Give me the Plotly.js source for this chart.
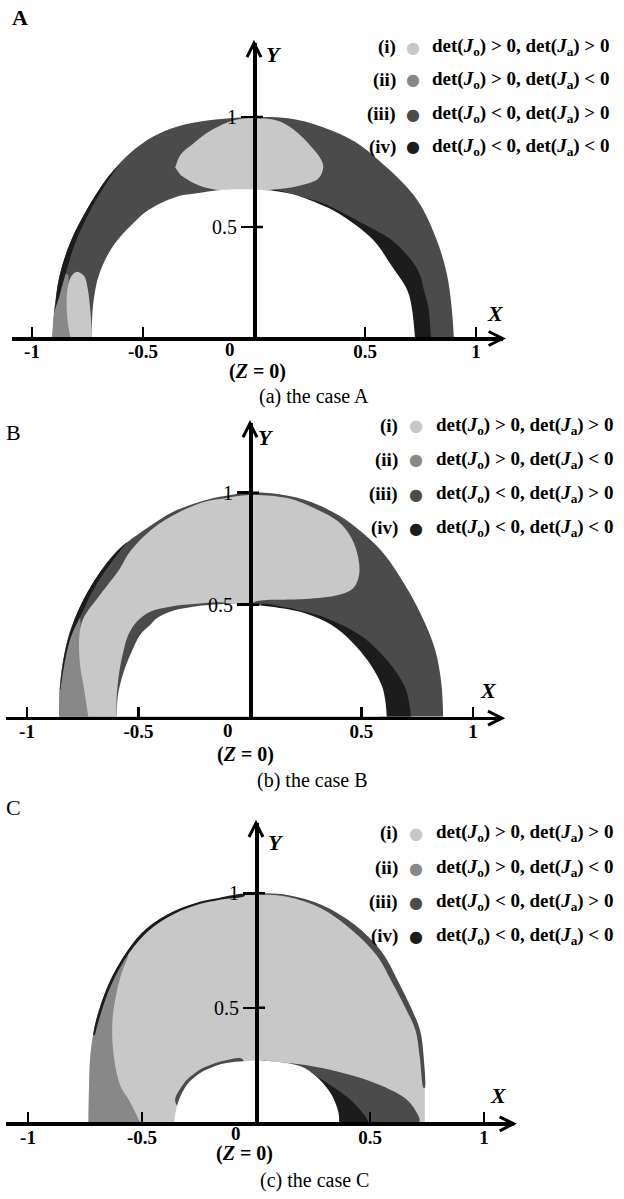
<!DOCTYPE html>
<html>
<head>
<meta charset="utf-8">
<script src="https://cdn.plot.ly/plotly-3.0.1.min.js"></script>
<style>
  html, body { margin: 0; padding: 0; background: #ffffff; }
  #chart { width: 624px; height: 1199px; }
</style>
</head>
<body>
<div id="chart"></div>
<script>
// ---- sign regions of det(J) over the (X, Y) plane at Z = 0 ----

// Region colours: (i) light, (ii) mid, (iii) dark, (iv) black
const regionColors = ['#c8c8c8', '#888888', '#4b4b4b', '#1c1c1c'];
const regionTags = ['(i)', '(ii)', '(iii)', '(iv)'];
const regionConds = [
  'det(<i>J</i><sub>o</sub>) &gt; 0, det(<i>J</i><sub>a</sub>) &gt; 0',
  'det(<i>J</i><sub>o</sub>) &gt; 0, det(<i>J</i><sub>a</sub>) &lt; 0',
  'det(<i>J</i><sub>o</sub>) &lt; 0, det(<i>J</i><sub>a</sub>) &gt; 0',
  'det(<i>J</i><sub>o</sub>) &lt; 0, det(<i>J</i><sub>a</sub>) &lt; 0'
];

const panelLetters = ['A', 'B', 'C'];
const captions = ['(a) the case A', '(b) the case B', '(c) the case C'];

const xTickVals = [-1, -0.5, 0.5, 1];
const xTickText = ['-1', '-0.5', '0.5', '1'];
const yTickVals = [0.5, 1];
const yTickText = ['0.5', '1'];

// ---- case A boundaries [X, Y] ----
const outerA = [[-0.908,0],[-0.899,0.123],[-0.877,0.274],[-0.829,0.426],[-0.754,0.577],[-0.656,0.729],
  [-0.559,0.835],[-0.454,0.911],[-0.348,0.956],[-0.194,0.986],[0,1.0],[0.155,0.994],[0.305,0.956],
  [0.455,0.888],[0.560,0.805],[0.680,0.691],[0.750,0.600],[0.823,0.441],[0.868,0.290],[0.890,0.138],[0.900,0]];
const innerA = [[-0.731,0],[-0.727,0.123],[-0.715,0.214],[-0.701,0.274],[-0.671,0.350],[-0.626,0.426],
  [-0.559,0.502],[-0.476,0.577],[-0.348,0.638],[-0.258,0.653],[-0.153,0.668],[0,0.670],[0.155,0.653],
  [0.305,0.600],[0.380,0.562],[0.535,0.443],[0.622,0.320],[0.690,0.214],[0.710,0.138],[0.725,0]];
const capA = [[-0.355,0.770],[-0.330,0.830],[-0.273,0.880],[-0.200,0.935],[-0.120,0.975],[-0.050,0.993],
  [0.050,0.993],[0.120,0.978],[0.200,0.925],[0.262,0.860],[0.300,0.810],[0.312,0.774],[0.290,0.720],
  [0.200,0.686],[0.068,0.668],[0,0.662],[-0.153,0.668],[-0.221,0.680],[-0.273,0.700],[-0.330,0.735]];
const ellipseA = [[-0.827,0],[-0.838,0.060],[-0.844,0.150],[-0.840,0.220],[-0.826,0.270],[-0.808,0.292],
  [-0.796,0.297],[-0.780,0.290],[-0.762,0.272],[-0.748,0.214],[-0.738,0.130],[-0.732,0.050],[-0.731,0]];
const midA = [[-0.908,0],[-0.904,0.080],[-0.885,0.200],[-0.862,0.275],[-0.840,0.285],[-0.838,0.180],
  [-0.832,0.060],[-0.825,0]];
const blackLeftA = [[-0.905,0.100],[-0.899,0.123],[-0.877,0.274],[-0.829,0.426],[-0.754,0.577],
  [-0.656,0.729],[-0.610,0.780],[-0.646,0.729],[-0.736,0.577],[-0.806,0.426],[-0.845,0.300],[-0.878,0.180]];
const blackRightA = [[0.797,0],[0.785,0.138],[0.765,0.214],[0.745,0.290],[0.700,0.360],[0.620,0.441],
  [0.500,0.510],[0.400,0.565],[0.300,0.612],[0.180,0.647],[0.080,0.664],
  [0.080,0.600],[0.300,0.500],[0.500,0.350],[0.600,0.200],[0.650,0.100],[0.650,0]];

// ---- case B boundaries ----
const outerB = [[-0.855,0],[-0.852,0.141],[-0.830,0.290],[-0.785,0.439],[-0.710,0.588],[-0.598,0.737],
  [-0.463,0.841],[-0.344,0.915],[-0.224,0.960],[-0.135,0.982],[0,1.0],[0.097,0.997],[0.247,0.967],
  [0.396,0.900],[0.516,0.811],[0.605,0.722],[0.695,0.588],[0.770,0.450],[0.830,0.300],[0.858,0.150],[0.866,0]];
const innerB = [[-0.598,0],[-0.594,0.082],[-0.583,0.141],[-0.561,0.216],[-0.531,0.290],[-0.493,0.365],
  [-0.448,0.409],[-0.418,0.439],[-0.359,0.469],[-0.254,0.491],[-0.135,0.502],[0,0.500],[0.097,0.491],
  [0.247,0.462],[0.366,0.409],[0.456,0.335],[0.531,0.246],[0.590,0.141],[0.607,0.070],[0.613,0]];
const lightB = [[-0.725,0],[-0.747,0.141],[-0.762,0.231],[-0.765,0.365],[-0.747,0.439],[-0.673,0.543],
  [-0.583,0.662],[-0.538,0.737],[-0.434,0.841],[-0.314,0.915],[-0.202,0.960],[-0.135,0.972],[0,0.990],
  [0.172,0.975],[0.291,0.930],[0.396,0.871],[0.456,0.796],[0.486,0.707],[0.489,0.633],[0.463,0.573],
  [0.396,0.543],[0.247,0.525],[0.022,0.513],[0,0.495],[-0.135,0.511],[-0.254,0.503],[-0.359,0.491],
  [-0.448,0.469],[-0.508,0.424],[-0.546,0.365],[-0.568,0.290],[-0.586,0.201],[-0.598,0.082],[-0.598,0]];
const midB = [[-0.855,0],[-0.852,0.141],[-0.830,0.290],[-0.800,0.400],[-0.765,0.450],[-0.760,0.365],
  [-0.757,0.231],[-0.742,0.141],[-0.720,0]];
const blackLeftB = [[-0.853,0.120],[-0.830,0.290],[-0.785,0.439],[-0.710,0.588],[-0.598,0.737],
  [-0.550,0.780],[-0.585,0.737],[-0.690,0.588],[-0.755,0.460],[-0.805,0.350],[-0.835,0.220],[-0.850,0.120]];
const blackRightB = [[0.722,0],[0.700,0.120],[0.655,0.200],[0.580,0.290],[0.500,0.360],[0.400,0.415],
  [0.300,0.455],[0.150,0.490],[0.050,0.500],
  [0.050,0.450],[0.300,0.400],[0.450,0.300],[0.550,0.150],[0.580,0]];

// ---- case C boundaries ----
const outerC = [[-0.735,0],[-0.732,0.163],[-0.725,0.308],[-0.699,0.454],[-0.648,0.600],[-0.567,0.745],
  [-0.479,0.847],[-0.363,0.920],[-0.246,0.963],[-0.158,0.981],[0,1.0],[0.142,0.992],[0.288,0.949],
  [0.434,0.862],[0.551,0.745],[0.624,0.614],[0.680,0.500],[0.720,0.400],[0.735,0.287],[0.740,0.150],[0.740,0]];
const innerC = [[-0.360,0],[-0.341,0.090],[-0.304,0.163],[-0.275,0.192],[-0.238,0.220],[-0.187,0.243],
  [-0.136,0.258],[0,0.269],[0.142,0.258],[0.215,0.236],[0.288,0.177],[0.332,0.119],[0.361,0.046],[0.365,0]];
const midC = [[-0.735,0],[-0.732,0.163],[-0.725,0.308],[-0.699,0.454],[-0.648,0.600],[-0.598,0.690],
  [-0.560,0.730],[-0.582,0.672],[-0.604,0.600],[-0.629,0.454],[-0.626,0.308],[-0.596,0.163],
  [-0.553,0.090],[-0.509,0]];
const edgeLeftC = [[-0.715,0.380],[-0.699,0.454],[-0.648,0.600],[-0.567,0.745],[-0.479,0.847],
  [-0.363,0.920],[-0.246,0.963],[-0.158,0.981],[-0.050,0.996],
  [-0.050,0.988],[-0.158,0.972],[-0.243,0.954],[-0.357,0.911],[-0.470,0.838],[-0.557,0.738],
  [-0.637,0.595],[-0.688,0.450],[-0.707,0.380]];
const edgeRightC = [[0.020,1.0],[0.142,0.992],[0.288,0.949],[0.434,0.862],[0.551,0.745],[0.624,0.614],
  [0.680,0.500],[0.720,0.400],[0.735,0.287],[0.740,0.150],
  [0.735,0.150],[0.718,0.287],[0.700,0.400],[0.655,0.500],[0.597,0.610],[0.530,0.728],[0.420,0.840],
  [0.285,0.935],[0.142,0.984],[0.020,0.995]];
const holeEdgeC = [[-0.345,0.070],[-0.355,0.100],[-0.315,0.172],[-0.283,0.203],[-0.243,0.232],
  [-0.190,0.255],[-0.136,0.270],[-0.060,0.276],[-0.060,0.200],[-0.200,0.150],[-0.300,0.050]];
const wedgeDarkC = [[0.030,0.270],[0.215,0.250],[0.361,0.221],[0.507,0.177],[0.654,0.105],[0.700,0.050],
  [0.715,0],[0.300,0],[0.200,0.150],[0.030,0.200]];
const wedgeBlackC = [[0.140,0.255],[0.250,0.210],[0.330,0.160],[0.400,0.110],[0.460,0.050],[0.490,0],
  [0.300,0],[0.200,0.150],[0.100,0.200]];

// ---- page geometry (pixels) ----
const W = 624, H = 1199;
const SERIF = 'Liberation Serif';

const panels = [
  { x0: 254, sx: 222, y0: 337, sy: 220, xr: [-1.09, 1.12], ytop: 1.336,
    letter: [20, 17, 'bold'], xLab: [496, 313], yLab: [274, 55], zero: [230, 349], zLab: [257, 371],
    cap: [314, 396], rows: [47, 80, 114, 147], tagR: 398, dotX: 413, condL: 430 },
  { x0: 250, sx: 223, y0: 716.7, sy: 224, xr: [-1.094, 1.13], ytop: 1.31,
    letter: [13, 433, 'normal'], xLab: [488, 690], yLab: [266, 437], zero: [228, 730], zLab: [245, 754],
    cap: [312, 780], rows: [426, 460, 494, 528], tagR: 400, dotX: 416, condL: 434 },
  { x0: 256, sx: 228, y0: 1122.3, sy: 229, xr: [-1.096, 1.13], ytop: 1.307,
    letter: [13, 807, 'normal'], xLab: [498, 1095], yLab: [276, 842], zero: [236, 1133], zLab: [244, 1153],
    cap: [314, 1180], rows: [833, 868, 902, 936], tagR: 400, dotX: 416, condL: 434 }
];

const px = v => v / W;
const py = v => 1 - v / H;

// ---- traces ----
const traces = [];
function region(pts, color, n) {
  const s = n === 1 ? '' : String(n);
  traces.push({
    type: 'scatter', mode: 'lines',
    x: pts.map(p => p[0]), y: pts.map(p => p[1]),
    fill: 'toself', fillcolor: color,
    line: { width: 0, color: color, shape: 'spline', smoothing: 1 },
    hoverinfo: 'skip', showlegend: false,
    xaxis: 'x' + s, yaxis: 'y' + s
  });
}
const [cI, cII, cIII, cIV] = regionColors;

region(outerA, cIII, 1);
region(midA, cII, 1);
region(blackLeftA, cIV, 1);
region(ellipseA, cI, 1);
region(capA, cI, 1);
region(blackRightA, cIV, 1);
region(innerA, '#ffffff', 1);

region(outerB, cIII, 2);
region(midB, cII, 2);
region(blackLeftB, cIV, 2);
region(lightB, cI, 2);
region(blackRightB, cIV, 2);
region(innerB, '#ffffff', 2);

region(outerC, cI, 3);
region(midC, cII, 3);
region(edgeLeftC, cIV, 3);
region(edgeRightC, cIII, 3);
region(wedgeDarkC, cIII, 3);
region(wedgeBlackC, cIV, 3);
region(holeEdgeC, cIII, 3);
region(innerC, '#ffffff', 3);

// ---- layout ----
const layout = {
  width: W, height: H,
  margin: { l: 0, r: 0, t: 0, b: 0 },
  paper_bgcolor: '#ffffff', plot_bgcolor: 'rgba(0,0,0,0)',
  showlegend: false,
  annotations: [], shapes: []
};

panels.forEach((p, k) => {
  const n = k + 1, s = n === 1 ? '' : String(n);
  const left = p.x0 + p.xr[0] * p.sx, right = p.x0 + p.xr[1] * p.sx;
  const bottom = p.y0, top = p.y0 - p.ytop * p.sy;

  layout['xaxis' + s] = {
    domain: [px(left), px(right)], range: p.xr, anchor: 'y' + s,
    showline: true, linewidth: 3.5, linecolor: '#000',
    ticks: 'inside', ticklen: 10, tickwidth: 2.5, tickcolor: '#000',
    tickvals: xTickVals, ticktext: xTickText, ticklabelstandoff: -5,
    tickfont: { family: SERIF, size: 19, color: '#000', weight: 'bold' },
    showgrid: false, zeroline: false, layer: 'above traces', fixedrange: true
  };
  layout['yaxis' + s] = {
    domain: [py(bottom), py(top)], range: [0, p.ytop], anchor: 'free', position: px(p.x0),
    showline: true, linewidth: 3.5, linecolor: '#000',
    ticks: 'outside', ticklen: 12, tickwidth: 2.5, tickcolor: '#000',
    tickvals: yTickVals, ticktext: yTickText,
    tickfont: { family: SERIF, size: 20, color: '#000' },
    showgrid: false, zeroline: false, layer: 'above traces', fixedrange: true
  };

  // tick marks crossing the Y axis to its right
  yTickVals.forEach(v => layout.shapes.push({
    type: 'line', xref: 'paper', yref: 'y' + s, xsizemode: 'pixel', xanchor: px(p.x0),
    x0: 0, x1: 9, y0: v, y1: v, line: { color: '#000', width: 2.5 }, layer: 'above'
  }));
  // arrow heads
  layout.shapes.push({
    type: 'path', xref: 'paper', yref: 'paper', xsizemode: 'pixel', ysizemode: 'pixel',
    xanchor: px(right), yanchor: py(bottom + 1.5), path: 'M -14,7 L 0,0 L -14,-7',
    line: { color: '#000', width: 3 }, layer: 'above'
  });
  layout.shapes.push({
    type: 'path', xref: 'paper', yref: 'paper', xsizemode: 'pixel', ysizemode: 'pixel',
    xanchor: px(p.x0), yanchor: py(top), path: 'M -7,-14 L 0,0 L 7,-14',
    line: { color: '#000', width: 3 }, layer: 'above'
  });

  const A = (x, y, text, size, weight, opts) => layout.annotations.push(Object.assign({
    xref: 'paper', yref: 'paper', x: px(x), y: py(y), text: text, showarrow: false,
    xanchor: 'center', yanchor: 'middle',
    font: { family: SERIF, size: size, color: '#000', weight: weight }
  }, opts || {}));

  A(p.letter[0], p.letter[1], panelLetters[k], 22, p.letter[2]);
  A(p.xLab[0], p.xLab[1], '<i>X</i>', 22, 'bold');
  A(p.yLab[0], p.yLab[1], '<i>Y</i>', 22, 'bold');
  A(p.zero[0], p.zero[1], '0', 19, 'bold');
  A(p.zLab[0], p.zLab[1], '(<i>Z</i> = 0)', 20, 'bold');
  A(p.cap[0], p.cap[1], captions[k], 20, 'normal');

  p.rows.forEach((ry, r) => {
    A(p.tagR, ry, regionTags[r], 19, 'bold', { xanchor: 'right' });
    A(p.dotX, ry, '●', 16, 'normal', { font: { family: 'DejaVu Sans', size: 16, color: regionColors[r] } });
    A(p.condL, ry, regionConds[r], 19, 'bold', { xanchor: 'left' });
  });
});

Plotly.newPlot('chart', traces, layout, { staticPlot: true, displayModeBar: false });
</script>
</body>
</html>
